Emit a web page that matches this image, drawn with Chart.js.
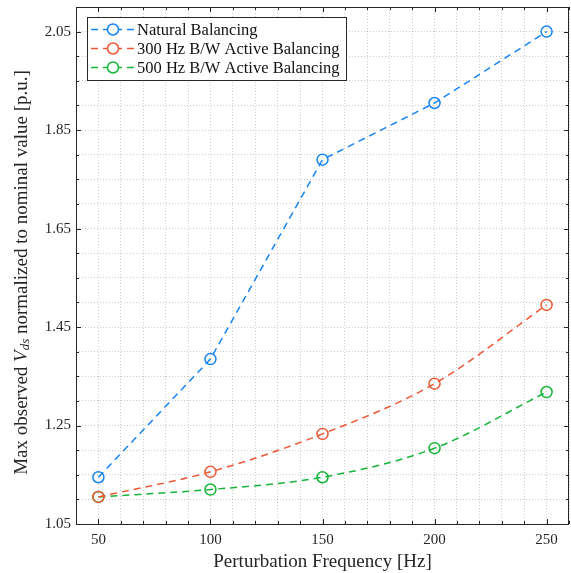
<!DOCTYPE html>
<html lang="en">
<head>
<meta charset="UTF-8">
<title>Max observed Vds vs perturbation frequency</title>
<script src="https://cdn.jsdelivr.net/npm/chart.js"></script>
<style>
    html, body { margin: 0; padding: 0; background: #fff; overflow: hidden; }
    #wrap { width: 571px; height: 573px; position: relative; overflow: hidden; }
    canvas { display: block; }
</style>
</head>
<body>
<div id="wrap"><canvas id="vdsChart"></canvas></div>
<script>
const frequencies = [50, 100, 150, 200, 250];
const naturalBalancing = [1.145, 1.385, 1.790, 1.905, 2.050];
const active300Hz = [1.105, 1.156, 1.233, 1.335, 1.495];
const active500Hz = [1.105, 1.120, 1.145, 1.204, 1.318];

const xMajorTicks = [50, 100, 150, 200, 250];
const yMajorTicks = [1.05, 1.25, 1.45, 1.65, 1.85, 2.05];

const serif = "'Liberation Serif', 'DejaVu Serif', serif";
const axisColor = '#262626';

function minorSteps(min, max, step) {
    const out = [];
    for (let v = min; v <= max + 1e-9; v += step) out.push(+v.toFixed(4));
    return out;
}
function isMajor(list, v) {
    return list.some(m => Math.abs(m - v) < 1e-6);
}

const series = [
    { label: 'Natural Balancing', data: naturalBalancing, color: '#1585f5', smooth: false },
    { label: '300 Hz B/W Active Balancing', data: active300Hz, color: '#ee5733', smooth: true },
    { label: '500 Hz B/W Active Balancing', data: active500Hz, color: '#14b53a', smooth: true }
];

// box, inward ticks, legend and the y title with subscript
const matlabLook = {
    id: 'matlabLook',
    afterDraw(chart) {
        const ctx = chart.ctx;
        const a = chart.chartArea;
        const xs = chart.scales.x, ys = chart.scales.y;
        ctx.save();
        ctx.strokeStyle = axisColor;
        ctx.lineWidth = 1;
        ctx.beginPath();
        xs.ticks.forEach(t => {
            const px = Math.round(xs.getPixelForValue(t.value)) + 0.5;
            const len = isMajor(xMajorTicks, t.value) ? 5 : 3;
            ctx.moveTo(px, a.bottom); ctx.lineTo(px, a.bottom - len);
            ctx.moveTo(px, a.top); ctx.lineTo(px, a.top + len);
        });
        ys.ticks.forEach(t => {
            const py = Math.round(ys.getPixelForValue(t.value)) + 0.5;
            const len = isMajor(yMajorTicks, t.value) ? 5 : 3;
            ctx.moveTo(a.left, py); ctx.lineTo(a.left + len, py);
            ctx.moveTo(a.right, py); ctx.lineTo(a.right - len, py);
        });
        ctx.stroke();
        ctx.strokeRect(Math.round(a.left) + 0.5, Math.round(a.top) + 0.5,
            Math.round(a.right - a.left) - 1, Math.round(a.bottom - a.top));

        // legend
        const lx = a.left + 11, ly = a.top + 10, lw = 259, lh = 63;
        ctx.fillStyle = '#fff';
        ctx.fillRect(lx, ly, lw, lh);
        ctx.strokeStyle = axisColor;
        ctx.strokeRect(lx + 0.5, ly + 0.5, lw, lh);
        ctx.font = '16.5px ' + serif;
        ctx.textBaseline = 'middle';
        chart.data.datasets.forEach((ds, i) => {
            const y = ly + 12.5 + i * 19;
            ctx.strokeStyle = ds.borderColor;
            ctx.lineWidth = 1.5;
            ctx.setLineDash([7, 5]);
            ctx.beginPath();
            ctx.moveTo(lx + 4, y); ctx.lineTo(lx + 49, y);
            ctx.stroke();
            ctx.setLineDash([]);
            ctx.fillStyle = '#fff';
            ctx.beginPath();
            ctx.arc(lx + 26, y, 5.5, 0, Math.PI * 2);
            ctx.fill();
            ctx.stroke();
            ctx.fillStyle = '#111';
            ctx.fillText(ds.label, lx + 50, y + 1);
        });

        // y axis title
        const parts = [
            { t: 'Max observed ', f: '19px ' + serif, dy: 0 },
            { t: 'V', f: 'italic 19px ' + serif, dy: 0 },
            { t: 'ds', f: 'italic 13px ' + serif, dy: 4 },
            { t: ' normalized to nominal value [p.u.]', f: '19px ' + serif, dy: 0 }
        ];
        let total = 0;
        parts.forEach(p => { ctx.font = p.f; p.w = ctx.measureText(p.t).width; total += p.w; });
        ctx.translate(22, (a.top + a.bottom) / 2 + 7);
        ctx.rotate(-Math.PI / 2);
        ctx.fillStyle = '#262626';
        ctx.textBaseline = 'middle';
        ctx.textAlign = 'left';
        let x = -total / 2;
        parts.forEach(p => { ctx.font = p.f; ctx.fillText(p.t, x, p.dy); x += p.w; });
        ctx.restore();
    }
};

new Chart(document.getElementById('vdsChart'), {
    type: 'line',
    data: {
        datasets: series.map(s => ({
            label: s.label,
            data: frequencies.map((f, i) => ({ x: f, y: s.data[i] })),
            borderColor: s.color,
            backgroundColor: 'transparent',
            borderWidth: 1.5,
            borderDash: [7, 5],
            pointRadius: 5.5,
            pointHoverRadius: 5.5,
            pointBorderWidth: 1.5,
            pointBackgroundColor: 'rgba(255,255,255,0)',
            pointBorderColor: s.color,
            cubicInterpolationMode: s.smooth ? 'monotone' : 'default',
            tension: 0
        }))
    },
    options: {
        responsive: true,
        maintainAspectRatio: false,
        animation: false,
        layout: { autoPadding: false, padding: { top: 7, right: 2, left: 0, bottom: 0 } },
        plugins: { legend: { display: false }, tooltip: { enabled: false } },
        scales: {
            x: {
                type: 'linear',
                min: 40,
                max: 260,
                afterBuildTicks: s => { s.ticks = minorSteps(40, 260, 10).map(v => ({ value: v })); },
                afterFit: s => { s.height = 49; s.paddingLeft = 0; s.paddingRight = 0; },
                grid: { color: 'rgba(0,0,0,0.2)', lineWidth: 1, drawTicks: false },
                border: { display: false, dash: [1, 2] },
                ticks: {
                    autoSkip: false,
                    maxRotation: 0,
                    padding: 7,
                    color: '#262626',
                    font: { family: serif, size: 15 },
                    callback: v => isMajor(xMajorTicks, v) ? String(v) : ''
                },
                title: {
                    display: true,
                    text: 'Perturbation Frequency [Hz]',
                    color: '#262626',
                    font: { family: serif, size: 19 },
                    padding: { top: 0, bottom: 0 }
                }
            },
            y: {
                type: 'linear',
                min: 1.05,
                max: 2.10,
                afterBuildTicks: s => { s.ticks = minorSteps(1.05, 2.10, 0.05).map(v => ({ value: v })); },
                afterFit: s => { s.width = 76; s.paddingTop = 0; s.paddingBottom = 0; },
                grid: { color: 'rgba(0,0,0,0.2)', lineWidth: 1, drawTicks: false },
                border: { display: false, dash: [1, 2] },
                ticks: {
                    autoSkip: false,
                    padding: 5,
                    color: '#262626',
                    font: { family: serif, size: 15 },
                    callback: v => isMajor(yMajorTicks, v) ? v.toFixed(2) : ''
                }
            }
        }
    },
    plugins: [matlabLook]
});
</script>
</body>
</html>
